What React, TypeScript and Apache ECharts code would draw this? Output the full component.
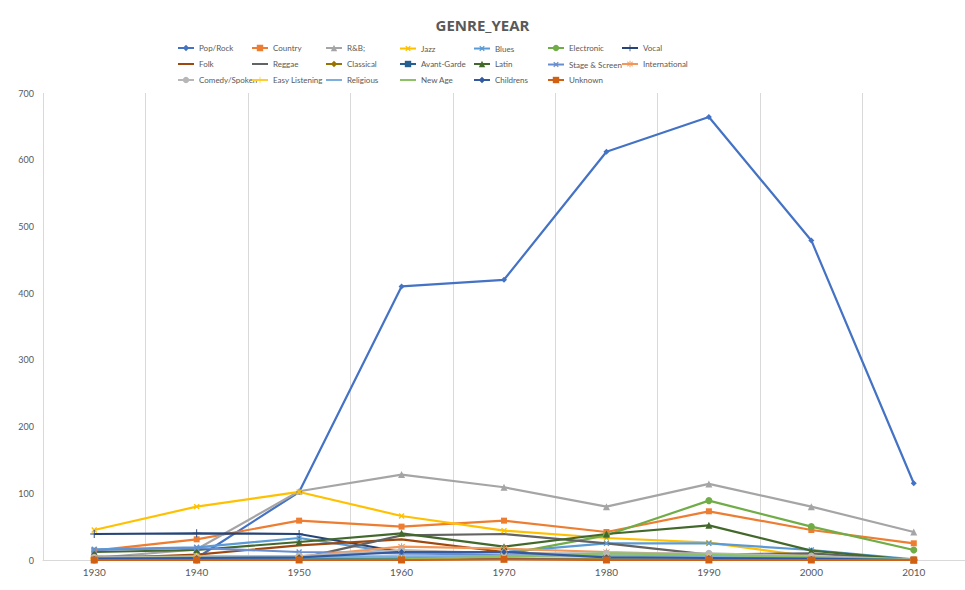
import React, { useEffect, useRef } from "react";
import * as echarts from "echarts";

const years = ["1930", "1940", "1950", "1960", "1970", "1980", "1990", "2000", "2010"];

const popRock = [1, 3, 102, 410, 420, 612, 664, 479, 115];
const country = [14, 31, 59, 50, 59, 42, 73, 45, 25];
const rnb = [3, 16, 103, 128, 109, 80, 114, 80, 42];
const jazz = [45, 80, 102, 66, 44, 33, 26, 5, 0];
const blues = [16, 19, 33, 10, 12, 25, 25, 15, 1];
const electronic = [0, 0, 1, 3, 8, 37, 89, 50, 15];
const vocal = [39, 40, 39, 12, 10, 5, 3, 2, 0];
const folk = [2, 8, 22, 31, 12, 5, 3, 2, 0];
const reggae = [0, 0, 2, 37, 39, 25, 8, 10, 0];
const classical = [5, 5, 6, 5, 4, 3, 3, 2, 0];
const avantGarde = [0, 0, 1, 2, 3, 4, 3, 2, 0];
const latin = [12, 15, 27, 40, 20, 39, 52, 14, 0];
const stageScreen = [15, 18, 12, 10, 8, 6, 5, 3, 0];
const international = [3, 4, 5, 20, 17, 12, 8, 4, 0];
const comedySpoken = [4, 5, 6, 15, 10, 10, 10, 6, 1];
const easyListening = [2, 5, 5, 6, 5, 4, 3, 2, 0];
const religious = [3, 4, 4, 5, 6, 7, 6, 3, 0];
const newAge = [0, 0, 0, 1, 5, 10, 8, 4, 0];
const childrens = [2, 3, 4, 12, 12, 4, 3, 2, 0];
const unknown = [0, 0, 0, 0, 1, 0, 0, 0, 0];

const yTicks = [0, 100, 200, 300, 400, 500, 600, 700];

// marker shapes
const CROSS = "path://M4,0H6V4H10V6H6V10H4V6H0V4H4Z";
const THIN_PLUS = "path://M4.4,0H5.6V4.4H10V5.6H5.6V10H4.4V5.6H0V4.4H4.4Z";
const STAR =
  "path://M4.4,0H5.6V10H4.4Z M1,1.8L1.8,1L9,8.2L8.2,9Z M8.2,1L9,1.8L1.8,9L1,8.2Z";

type Def = {
  name: string;
  data: number[];
  color: string;
  symbol: string;
  size?: number;
  rotate?: number;
};

const defs: Def[] = [
  { name: "Pop/Rock", data: popRock, color: "#4472C4", symbol: "diamond", size: 6 },
  { name: "Country", data: country, color: "#ED7D31", symbol: "rect", size: 6 },
  { name: "R&B;", data: rnb, color: "#A5A5A5", symbol: "triangle", size: 7 },
  { name: "Jazz", data: jazz, color: "#FFC000", symbol: CROSS, size: 7, rotate: 45 },
  { name: "Blues", data: blues, color: "#5B9BD5", symbol: CROSS, size: 7, rotate: 45 },
  { name: "Electronic", data: electronic, color: "#70AD47", symbol: "circle", size: 7 },
  { name: "Vocal", data: vocal, color: "#264478", symbol: THIN_PLUS, size: 8 },
  { name: "Folk", data: folk, color: "#9E480E", symbol: "none" },
  { name: "Reggae", data: reggae, color: "#636363", symbol: "none" },
  { name: "Classical", data: classical, color: "#997300", symbol: "diamond", size: 6 },
  { name: "Avant-Garde", data: avantGarde, color: "#255E91", symbol: "rect", size: 6 },
  { name: "Latin", data: latin, color: "#43682B", symbol: "triangle", size: 7 },
  { name: "Stage & Screen", data: stageScreen, color: "#698ED0", symbol: CROSS, size: 7, rotate: 45 },
  { name: "International", data: international, color: "#F1975A", symbol: STAR, size: 7 },
  { name: "Comedy/Spoken", data: comedySpoken, color: "#B7B7B7", symbol: "circle", size: 7 },
  { name: "Easy Listening", data: easyListening, color: "#FFCD33", symbol: THIN_PLUS, size: 8 },
  { name: "Religious", data: religious, color: "#7CAFDD", symbol: "none" },
  { name: "New Age", data: newAge, color: "#8CC168", symbol: "none" },
  { name: "Childrens", data: childrens, color: "#335AA1", symbol: "diamond", size: 6 },
  { name: "Unknown", data: unknown, color: "#D26012", symbol: "rect", size: 7 },
];

const FONT = "Lato, 'Liberation Sans', sans-serif";
const TEXT = "#595959";
const GRID_LINE = "#D9D9D9";

const legendCols = [177, 251, 325, 399, 473, 547, 621];
const legendRows = [44, 60, 76];

export default function App() {
  const ref = useRef<HTMLDivElement>(null);

  useEffect(() => {
    if (!ref.current) return;
    const chart = echarts.init(ref.current, undefined, { renderer: "svg" });

    // one legend per entry so the entries sit on a fixed 7-column grid
    const legends = defs.map((d, i) => ({
      data: [d.name],
      left: legendCols[i % 7],
      top: legendRows[Math.floor(i / 7)],
      padding: 0,
      itemWidth: 16,
      itemHeight: 8,
      itemGap: 0,
      itemStyle: d.symbol === "none" ? { opacity: 0 } : {},
      textStyle: { color: TEXT, fontSize: 8, fontFamily: FONT },
    }));

    const series = defs.map((d) => ({
      name: d.name,
      type: "line",
      data: d.data,
      symbol: d.symbol,
      symbolSize: d.size ?? 6,
      symbolRotate: d.rotate ?? 0,
      showSymbol: d.symbol !== "none",
      lineStyle: { color: d.color, width: 2.2 },
      itemStyle: { color: d.color },
      emphasis: { disabled: true },
    }));

    chart.setOption({
      animation: false,
      backgroundColor: "#ffffff",
      title: {
        text: "GENRE_YEAR",
        left: "center",
        top: 12,
        textStyle: { color: TEXT, fontSize: 15, fontWeight: "bold", fontFamily: "'Open Sans', sans-serif" },
      },
      legend: legends,
      grid: { left: 43, top: 93, width: 925, height: 467, containLabel: false },
      xAxis: {
        type: "category",
        data: years,
        boundaryGap: true,
        axisLine: { show: true, lineStyle: { color: GRID_LINE, width: 1 } },
        axisTick: { show: false },
        axisLabel: { color: TEXT, fontSize: 10, fontFamily: FONT, margin: 7 },
        splitLine: { show: true, lineStyle: { color: GRID_LINE, width: 1 } },
      },
      yAxis: {
        type: "value",
        min: yTicks[0],
        max: yTicks[yTicks.length - 1],
        interval: 100,
        axisLine: { show: false },
        axisTick: { show: false },
        splitLine: { show: false },
        axisLabel: { color: TEXT, fontSize: 9, fontFamily: FONT, margin: 9 },
      },
      series,
    });

    return () => chart.dispose();
  }, []);

  return (
    <div
      ref={ref}
      style={{ position: "fixed", left: 0, top: 0, width: 965, height: 590 }}
    />
  );
}
